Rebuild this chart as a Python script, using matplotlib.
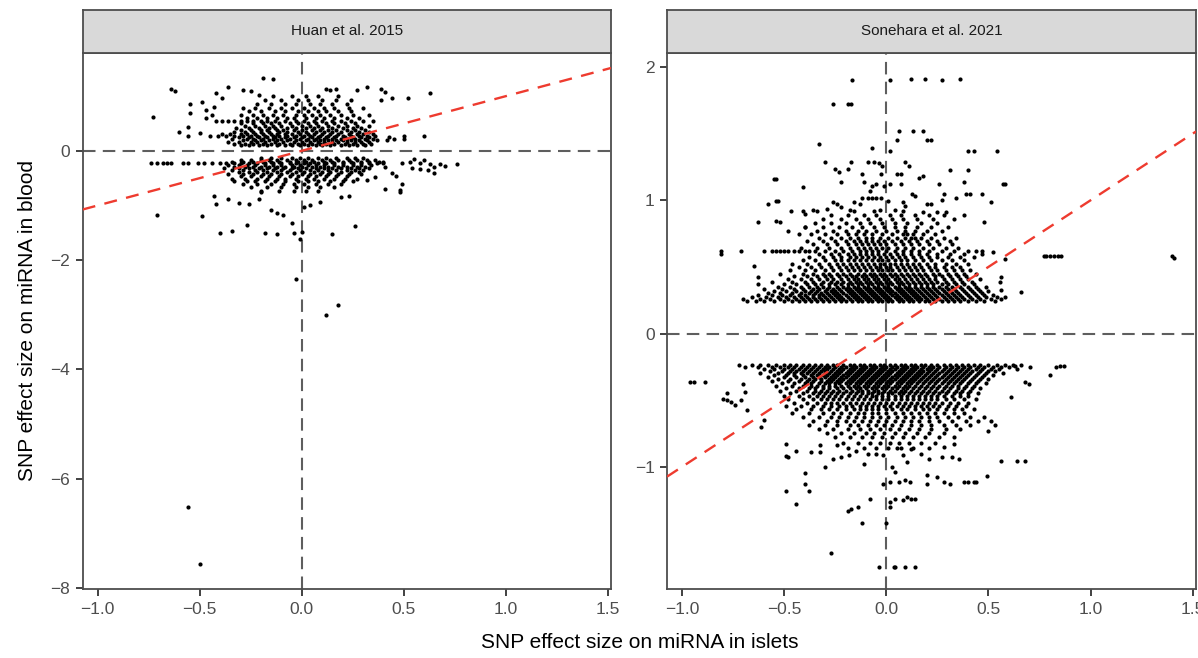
import matplotlib
matplotlib.use('Agg')
import matplotlib.pyplot as plt
from matplotlib.ticker import FuncFormatter

plt.rcParams['font.family'] = ['Liberation Sans', 'DejaVu Sans']

panel_titles = ['Huan et al. 2015', 'Sonehara et al. 2021']
x_ticks = [-1.0, -0.5, 0.0, 0.5, 1.0, 1.5]
huan_y_ticks = [0, -2, -4, -6, -8]
sone_y_ticks = [2, 1, 0, -1]

# Huan et al. 2015 - dense part read as rows (blood effect, islet effects)
huan_rows = [
    (0.10, [-0.30, -0.26, -0.21, -0.17, -0.12, -0.08, -0.05, -0.01, 0.03, 0.07, 0.10, 0.14, 0.19, 0.23, 0.27, 0.31]),
    (0.13, [-0.33, -0.28, -0.24, -0.19, -0.15, -0.11, -0.06, -0.02, 0.01, 0.05, 0.09, 0.12, 0.16, 0.21, 0.25, 0.30, 0.34]),
    (0.16, [-0.36, -0.31, -0.25, -0.22, -0.18, -0.13, -0.09, -0.04, 0.0, 0.04, 0.08, 0.11, 0.15, 0.18, 0.22, 0.26, 0.29, 0.33]),
    (0.19, [-0.29, -0.23, -0.20, -0.16, -0.12, -0.07, -0.03, 0.02, 0.06, 0.09, 0.13, 0.17, 0.20, 0.24, 0.28, 0.32, 0.37]),
    (0.22, [-0.34, -0.27, -0.24, -0.19, -0.14, -0.10, -0.06, -0.01, 0.03, 0.07, 0.11, 0.15, 0.19, 0.22, 0.26, 0.31, 0.35]),
    (0.25, [-0.31, -0.26, -0.21, -0.17, -0.13, -0.08, -0.04, 0.0, 0.05, 0.08, 0.12, 0.16, 0.21, 0.25, 0.29, 0.33]),
    (0.28, [-0.45, -0.41, -0.37, -0.33, -0.29, -0.25, -0.22, -0.18, -0.14, -0.11, -0.07, -0.03, 0.01, 0.04, 0.09, 0.13, 0.17, 0.20, 0.24, 0.28, 0.32, 0.36]),
    (0.31, [-0.39, -0.35, -0.30, -0.27, -0.23, -0.19, -0.15, -0.12, -0.08, -0.05, -0.01, 0.03, 0.06, 0.10, 0.14, 0.18, 0.23, 0.27, 0.30, 0.35]),
    (0.34, [-0.33, -0.28, -0.24, -0.20, -0.16, -0.11, -0.07, -0.02, 0.02, 0.07, 0.11, 0.15, 0.19, 0.24, 0.28, 0.33]),
    (0.38, [-0.30, -0.25, -0.20, -0.17, -0.12, -0.09, -0.04, 0.0, 0.05, 0.09, 0.13, 0.17, 0.22, 0.26, 0.31]),
    (0.42, [-0.32, -0.26, -0.21, -0.16, -0.13, -0.07, -0.03, 0.02, 0.06, 0.10, 0.15, 0.20, 0.25, 0.29]),
    (0.46, [-0.28, -0.23, -0.18, -0.14, -0.10, -0.05, 0.0, 0.04, 0.08, 0.13, 0.18, 0.22, 0.27, 0.33]),
    (0.50, [-0.30, -0.24, -0.19, -0.15, -0.11, -0.06, -0.02, 0.03, 0.07, 0.12, 0.16, 0.21, 0.26]),
    (0.55, [-0.42, -0.39, -0.36, -0.33, -0.30, -0.27, -0.24, -0.20, -0.17, -0.13, -0.08, -0.03, 0.01, 0.06, 0.10, 0.15, 0.19, 0.24, 0.30, 0.35]),
    (0.60, [-0.27, -0.22, -0.17, -0.12, -0.07, -0.04, 0.02, 0.07, 0.11, 0.16, 0.22, 0.28]),
    (0.66, [-0.30, -0.24, -0.19, -0.14, -0.09, -0.03, 0.01, 0.05, 0.09, 0.14, 0.19, 0.25, 0.33]),
    (0.72, [-0.26, -0.20, -0.13, -0.08, -0.02, 0.03, 0.08, 0.12, 0.18, 0.24]),
    (0.79, [-0.29, -0.23, -0.16, -0.10, -0.05, 0.01, 0.06, 0.11, 0.16, 0.23, 0.30]),
    (0.86, [-0.22, -0.15, -0.08, -0.03, 0.04, 0.09, 0.15, 0.22]),
    (0.93, [-0.18, -0.10, -0.02, 0.03, 0.10, 0.17, 0.24]),
    (1.00, [-0.14, -0.05, 0.02, 0.08, 0.18]),
    (-0.14, [-0.20, -0.15, -0.10, -0.05, -0.01, 0.03, 0.08, 0.12, 0.17, 0.22, 0.26, 0.30]),
    (-0.17, [-0.30, -0.25, -0.20, -0.16, -0.12, -0.07, -0.03, 0.01, 0.05, 0.10, 0.14, 0.18, 0.23, 0.27, 0.32, 0.36]),
    (-0.20, [-0.34, -0.29, -0.24, -0.19, -0.15, -0.11, -0.06, -0.02, 0.02, 0.06, 0.11, 0.15, 0.20, 0.24, 0.29, 0.33, 0.38]),
    (-0.23, [-0.74, -0.71, -0.68, -0.66, -0.64, -0.58, -0.56, -0.51, -0.48, -0.44, -0.40, -0.37, -0.33, -0.30, -0.26, -0.22, -0.18, -0.14,
             -0.10, -0.06, -0.03, 0.01, 0.04, 0.08, 0.12, 0.16, 0.20, 0.25, 0.29, 0.33, 0.37, 0.40]),
    (-0.26, [-0.36, -0.31, -0.27, -0.23, -0.18, -0.14, -0.10, -0.05, -0.01, 0.03, 0.07, 0.11, 0.16, 0.20, 0.25, 0.29, 0.34]),
    (-0.29, [-0.33, -0.28, -0.24, -0.20, -0.16, -0.12, -0.08, -0.04, 0.0, 0.05, 0.09, 0.13, 0.18, 0.22, 0.27, 0.31]),
    (-0.32, [-0.38, -0.31, -0.26, -0.21, -0.17, -0.13, -0.09, -0.05, -0.02, 0.02, 0.07, 0.11, 0.15, 0.19, 0.24, 0.28, 0.33]),
    (-0.35, [-0.34, -0.29, -0.23, -0.19, -0.14, -0.10, -0.06, -0.01, 0.04, 0.08, 0.13, 0.17, 0.22, 0.26, 0.30]),
    (-0.39, [-0.31, -0.26, -0.22, -0.17, -0.12, -0.07, -0.03, 0.01, 0.06, 0.10, 0.14, 0.19, 0.24, 0.28]),
    (-0.43, [-0.36, -0.29, -0.24, -0.19, -0.15, -0.10, -0.05, 0.0, 0.04, 0.09, 0.13, 0.18, 0.23, 0.29]),
    (-0.47, [-0.30, -0.25, -0.20, -0.16, -0.11, -0.06, -0.02, 0.03, 0.07, 0.12, 0.17, 0.22]),
    (-0.51, [-0.34, -0.28, -0.22, -0.17, -0.12, -0.08, -0.03, 0.02, 0.06, 0.11, 0.16, 0.21, 0.27]),
    (-0.56, [-0.33, -0.27, -0.23, -0.18, -0.13, -0.08, -0.02, 0.03, 0.08, 0.14, 0.20, 0.25]),
    (-0.61, [-0.29, -0.22, -0.15, -0.09, -0.04, 0.01, 0.07, 0.13, 0.19]),
    (-0.67, [-0.25, -0.17, -0.10, -0.03, 0.03, 0.09, 0.16]),
    (-0.74, [-0.20, -0.11, -0.04, 0.02, 0.08]),
]

# Huan et al. 2015 - scattered points (islet effect, blood effect)
huan_extra = [
    (-0.56, -6.52), (-0.50, -7.57), (-0.03, -2.35), (0.18, -2.82), (0.12, -3.01),
    (-0.71, -1.18), (-0.49, -1.19), (-0.40, -1.50), (-0.34, -1.46), (-0.27, -1.35),
    (-0.18, -1.50), (-0.12, -1.53), (-0.04, -1.50), (0.0, -1.49), (-0.01, -1.62),
    (0.15, -1.52), (0.26, -1.37), (-0.15, -1.08), (-0.12, -1.13), (-0.09, -1.17),
    (-0.05, -1.33), (0.01, -1.02), (0.04, -1.00), (0.09, -0.94), (-0.43, -0.83),
    (-0.36, -0.88), (-0.31, -0.96), (-0.26, -0.97), (-0.21, -0.88), (-0.42, -0.97),
    (-0.20, -0.76), (0.19, -0.84), (0.23, -0.82), (0.41, -0.70), (0.48, -0.71),
    (0.48, -0.76), (0.49, -0.61), (0.49, -0.23), (0.53, -0.21), (0.55, -0.15),
    (0.58, -0.23), (0.60, -0.17), (0.63, -0.24), (0.65, -0.29), (0.68, -0.24),
    (0.70, -0.27), (0.76, -0.24), (0.54, -0.32), (0.58, -0.34), (0.62, -0.35),
    (0.65, -0.41), (0.40, -0.20), (0.41, -0.29), (0.44, -0.41), (0.46, -0.47),
    (0.32, -0.53), (0.36, -0.48),
    (-0.19, 1.34), (-0.14, 1.31), (-0.64, 1.13), (-0.62, 1.10), (-0.73, 0.62),
    (-0.55, 0.85), (-0.55, 0.69), (-0.49, 0.90), (-0.42, 1.05), (-0.39, 0.96),
    (-0.36, 1.16), (-0.29, 1.11), (-0.25, 1.10), (-0.21, 1.02), (0.12, 1.13),
    (0.14, 1.11), (0.17, 1.13), (0.27, 1.11), (0.32, 1.16), (0.39, 1.13),
    (0.41, 1.08), (0.44, 0.96), (0.52, 0.96), (0.63, 1.05), (0.39, 0.93),
    (0.60, 0.27), (0.50, 0.27), (0.50, 0.21), (0.43, 0.25), (0.45, 0.21),
    (0.42, 0.20), (-0.60, 0.35), (-0.56, 0.43), (-0.56, 0.27), (-0.47, 0.60),
    (-0.44, 0.66), (-0.47, 0.75), (-0.43, 0.80), (-0.50, 0.32),
]

# Sonehara et al. 2021 - dense part read as rows
sone_rows = [
    (0.245, [-0.68, -0.64, -0.60, -0.55, -0.50, -0.46, -0.43, -0.40, -0.37, -0.34, -0.31, -0.28, -0.25, -0.22, -0.20, -0.17, -0.14, -0.12, -0.09, -0.07,
             -0.04, -0.02, 0.01, 0.03, 0.06, 0.08, 0.11, 0.13, 0.16, 0.19, 0.21, 0.24, 0.27, 0.30, 0.33, 0.36, 0.40, 0.44, 0.48, 0.53]),
    (0.26, [-0.70, -0.62, -0.57, -0.52, -0.48, -0.44, -0.41, -0.38, -0.35, -0.32, -0.29, -0.26, -0.23, -0.21, -0.18, -0.15, -0.13, -0.10, -0.08, -0.05,
            -0.03, 0.0, 0.02, 0.05, 0.07, 0.10, 0.12, 0.15, 0.17, 0.20, 0.23, 0.26, 0.29, 0.32, 0.35, 0.38, 0.42, 0.46, 0.51, 0.56]),
    (0.275, [-0.66, -0.59, -0.53, -0.49, -0.45, -0.42, -0.39, -0.36, -0.33, -0.30, -0.27, -0.24, -0.22, -0.19, -0.16, -0.14, -0.11, -0.09, -0.06, -0.04,
             -0.01, 0.01, 0.04, 0.06, 0.09, 0.11, 0.14, 0.16, 0.19, 0.22, 0.25, 0.28, 0.31, 0.34, 0.37, 0.41, 0.45, 0.49, 0.54]),
    (0.29, [-0.63, -0.56, -0.51, -0.47, -0.43, -0.40, -0.36, -0.33, -0.31, -0.28, -0.25, -0.23, -0.20, -0.17, -0.15, -0.12, -0.10, -0.07, -0.05, -0.02,
            0.0, 0.03, 0.05, 0.08, 0.10, 0.13, 0.15, 0.18, 0.21, 0.24, 0.27, 0.30, 0.33, 0.36, 0.40, 0.44, 0.48, 0.52]),
    (0.305, [-0.58, -0.52, -0.46, -0.42, -0.38, -0.35, -0.32, -0.29, -0.26, -0.24, -0.21, -0.18, -0.16, -0.13, -0.11, -0.08, -0.06, -0.03, -0.01,
             0.02, 0.04, 0.07, 0.09, 0.12, 0.14, 0.17, 0.20, 0.23, 0.26, 0.29, 0.32, 0.35, 0.39, 0.43, 0.47]),
    (0.32, [-0.55, -0.49, -0.44, -0.40, -0.37, -0.34, -0.30, -0.27, -0.25, -0.22, -0.19, -0.17, -0.14, -0.12, -0.09, -0.07, -0.04, -0.02, 0.01,
            0.03, 0.06, 0.08, 0.11, 0.13, 0.16, 0.19, 0.22, 0.25, 0.28, 0.31, 0.34, 0.38, 0.42, 0.46, 0.50]),
    (0.335, [-0.60, -0.51, -0.45, -0.41, -0.36, -0.33, -0.29, -0.26, -0.23, -0.20, -0.18, -0.15, -0.13, -0.10, -0.08, -0.05, -0.03, 0.0, 0.02,
             0.05, 0.07, 0.10, 0.12, 0.15, 0.18, 0.21, 0.24, 0.27, 0.30, 0.33, 0.37, 0.41, 0.45]),
    (0.35, [-0.53, -0.47, -0.42, -0.38, -0.34, -0.31, -0.28, -0.24, -0.21, -0.19, -0.16, -0.14, -0.11, -0.09, -0.06, -0.04, -0.01, 0.01, 0.04,
            0.06, 0.09, 0.11, 0.14, 0.17, 0.20, 0.23, 0.26, 0.29, 0.32, 0.36, 0.40, 0.44, 0.49]),
    (0.37, [-0.50, -0.44, -0.39, -0.35, -0.32, -0.28, -0.25, -0.22, -0.19, -0.17, -0.14, -0.12, -0.09, -0.07, -0.04, -0.02, 0.01, 0.03, 0.06,
            0.08, 0.11, 0.14, 0.17, 0.20, 0.23, 0.27, 0.30, 0.34, 0.38, 0.43]),
    (0.39, [-0.56, -0.46, -0.40, -0.36, -0.31, -0.27, -0.24, -0.21, -0.18, -0.15, -0.13, -0.10, -0.08, -0.05, -0.03, 0.0, 0.02, 0.05, 0.07,
            0.10, 0.13, 0.16, 0.19, 0.22, 0.25, 0.29, 0.33, 0.37, 0.42]),
    (0.41, [-0.48, -0.42, -0.37, -0.33, -0.29, -0.26, -0.22, -0.19, -0.16, -0.14, -0.11, -0.09, -0.06, -0.04, -0.01, 0.01, 0.04, 0.06, 0.09,
            0.12, 0.15, 0.18, 0.21, 0.24, 0.28, 0.32, 0.36, 0.40, 0.46]),
    (0.43, [-0.45, -0.39, -0.34, -0.30, -0.27, -0.23, -0.20, -0.17, -0.15, -0.12, -0.10, -0.07, -0.05, -0.02, 0.0, 0.03, 0.05, 0.08, 0.11,
            0.14, 0.17, 0.20, 0.24, 0.27, 0.31, 0.35, 0.39]),
    (0.45, [-0.52, -0.41, -0.36, -0.31, -0.28, -0.24, -0.21, -0.18, -0.14, -0.11, -0.08, -0.06, -0.03, -0.01, 0.02, 0.04, 0.07, 0.10, 0.13,
            0.16, 0.19, 0.23, 0.26, 0.30, 0.34, 0.38, 0.44]),
    (0.475, [-0.47, -0.40, -0.35, -0.30, -0.26, -0.22, -0.19, -0.16, -0.13, -0.10, -0.07, -0.04, -0.02, 0.01, 0.03, 0.06, 0.09, 0.12, 0.15,
             0.18, 0.22, 0.25, 0.29, 0.33, 0.37, 0.41]),
    (0.50, [-0.43, -0.37, -0.32, -0.27, -0.23, -0.20, -0.17, -0.14, -0.11, -0.08, -0.05, -0.03, 0.0, 0.02, 0.05, 0.08, 0.11, 0.14, 0.17,
            0.21, 0.24, 0.28, 0.32, 0.36]),
    (0.525, [-0.46, -0.39, -0.33, -0.28, -0.24, -0.21, -0.18, -0.15, -0.12, -0.09, -0.06, -0.03, -0.01, 0.02, 0.04, 0.07, 0.10, 0.13, 0.16,
             0.20, 0.24, 0.29, 0.34, 0.40]),
    (0.55, [-0.41, -0.35, -0.30, -0.25, -0.22, -0.19, -0.16, -0.13, -0.10, -0.07, -0.04, -0.02, 0.01, 0.04, 0.07, 0.10, 0.14, 0.18, 0.22,
            0.27, 0.32, 0.38]),
    (0.575, [-0.38, -0.31, -0.26, -0.22, -0.18, -0.15, -0.12, -0.09, -0.06, -0.03, 0.0, 0.03, 0.06, 0.09, 0.13, 0.17, 0.21, 0.25, 0.30,
             0.36, 0.43]),
    (0.60, [-0.33, -0.27, -0.23, -0.19, -0.16, -0.13, -0.10, -0.07, -0.04, -0.01, 0.02, 0.05, 0.08, 0.12, 0.16, 0.20, 0.25, 0.31, 0.38, 0.47]),
    (0.62, [-0.60, -0.56, -0.54, -0.52, -0.50, -0.48, -0.45, -0.43, -0.40, -0.38, -0.35, -0.30, -0.25, -0.21, -0.17, -0.13, -0.10, -0.07,
            -0.04, 0.0, 0.04, 0.08, 0.12, 0.16, 0.21, 0.27, 0.33, 0.40, 0.44, 0.47]),
    (0.645, [-0.42, -0.34, -0.28, -0.22, -0.18, -0.14, -0.11, -0.08, -0.05, -0.02, 0.01, 0.05, 0.09, 0.13, 0.18, 0.23, 0.29, 0.35]),
    (0.67, [-0.36, -0.29, -0.24, -0.19, -0.15, -0.12, -0.09, -0.06, -0.03, 0.0, 0.04, 0.08, 0.12, 0.16, 0.21, 0.26, 0.32]),
    (0.695, [-0.39, -0.31, -0.25, -0.20, -0.16, -0.13, -0.10, -0.07, -0.04, -0.01, 0.03, 0.07, 0.11, 0.15, 0.20, 0.25, 0.31]),
    (0.72, [-0.33, -0.27, -0.22, -0.18, -0.14, -0.10, -0.07, -0.03, 0.01, 0.05, 0.09, 0.12, 0.14, 0.17, 0.22, 0.28, 0.34]),
    (0.745, [-0.37, -0.30, -0.24, -0.19, -0.15, -0.11, -0.07, -0.02, 0.03, 0.08, 0.10, 0.13, 0.18, 0.24]),
    (0.77, [-0.34, -0.26, -0.20, -0.14, -0.10, -0.05, 0.0, 0.05, 0.09, 0.14, 0.20, 0.27]),
    (0.80, [-0.40, -0.31, -0.23, -0.17, -0.12, -0.06, -0.01, 0.04, 0.09, 0.15, 0.22, 0.30]),
    (0.83, [-0.35, -0.27, -0.20, -0.13, -0.08, -0.02, 0.04, 0.10, 0.17, 0.25]),
    (0.86, [-0.31, -0.22, -0.15, -0.09, -0.03, 0.03, 0.08, 0.15, 0.23, 0.33]),
    (0.89, [-0.27, -0.19, -0.11, -0.05, 0.02, 0.07, 0.14, 0.21, 0.28]),
    (-0.235, [-0.72, -0.66, -0.62, -0.58, -0.54, -0.50, -0.47, -0.44, -0.41, -0.38, -0.35, -0.32, -0.29, -0.26, -0.24, -0.21, -0.18, -0.16,
              -0.13, -0.11, -0.08, -0.06, -0.03, -0.01, 0.02, 0.04, 0.07, 0.09, 0.12, 0.14, 0.17, 0.19, 0.22, 0.25, 0.28, 0.31, 0.34, 0.37,
              0.40, 0.43, 0.46, 0.50, 0.54, 0.58, 0.62, 0.66]),
    (-0.25, [-0.69, -0.63, -0.56, -0.52, -0.48, -0.45, -0.42, -0.39, -0.36, -0.33, -0.30, -0.28, -0.25, -0.22, -0.20, -0.17, -0.15, -0.12,
             -0.10, -0.07, -0.05, -0.02, 0.0, 0.03, 0.05, 0.08, 0.10, 0.13, 0.15, 0.18, 0.21, 0.23, 0.26, 0.29, 0.32, 0.35, 0.38, 0.41,
             0.45, 0.48, 0.52, 0.56, 0.60]),
    (-0.265, [-0.60, -0.55, -0.50, -0.46, -0.43, -0.40, -0.37, -0.34, -0.31, -0.29, -0.26, -0.23, -0.21, -0.18, -0.16, -0.13, -0.11, -0.08,
              -0.06, -0.03, -0.01, 0.02, 0.04, 0.07, 0.09, 0.12, 0.14, 0.17, 0.20, 0.22, 0.25, 0.28, 0.31, 0.34, 0.37, 0.40, 0.44, 0.47,
              0.51, 0.55, 0.64]),
    (-0.28, [-0.57, -0.51, -0.47, -0.44, -0.41, -0.38, -0.35, -0.32, -0.30, -0.27, -0.24, -0.22, -0.19, -0.17, -0.14, -0.12, -0.09, -0.07,
             -0.04, -0.02, 0.01, 0.03, 0.06, 0.08, 0.11, 0.13, 0.16, 0.18, 0.21, 0.24, 0.27, 0.30, 0.33, 0.36, 0.39, 0.42, 0.46, 0.50, 0.53]),
    (-0.295, [-0.62, -0.53, -0.48, -0.45, -0.42, -0.39, -0.36, -0.33, -0.30, -0.28, -0.25, -0.23, -0.20, -0.18, -0.15, -0.13, -0.10, -0.08,
              -0.05, -0.03, 0.0, 0.02, 0.05, 0.07, 0.10, 0.12, 0.15, 0.17, 0.20, 0.23, 0.26, 0.29, 0.32, 0.35, 0.38, 0.41, 0.45, 0.49, 0.57]),
    (-0.31, [-0.55, -0.49, -0.45, -0.41, -0.37, -0.34, -0.31, -0.29, -0.26, -0.24, -0.21, -0.19, -0.16, -0.14, -0.11, -0.09, -0.06, -0.04,
             -0.01, 0.01, 0.04, 0.06, 0.09, 0.11, 0.14, 0.16, 0.19, 0.22, 0.25, 0.28, 0.31, 0.34, 0.37, 0.40, 0.44, 0.48, 0.52]),
    (-0.325, [-0.58, -0.50, -0.44, -0.40, -0.36, -0.33, -0.30, -0.27, -0.25, -0.22, -0.20, -0.17, -0.15, -0.12, -0.10, -0.07, -0.05, -0.02,
              0.0, 0.03, 0.05, 0.08, 0.10, 0.13, 0.15, 0.18, 0.21, 0.24, 0.27, 0.30, 0.33, 0.36, 0.39, 0.43, 0.47]),
    (-0.34, [-0.53, -0.47, -0.42, -0.38, -0.35, -0.32, -0.28, -0.26, -0.23, -0.21, -0.18, -0.16, -0.13, -0.11, -0.08, -0.06, -0.03, -0.01,
             0.02, 0.04, 0.07, 0.09, 0.12, 0.14, 0.17, 0.20, 0.23, 0.26, 0.29, 0.32, 0.35, 0.38, 0.42, 0.46, 0.50]),
    (-0.355, [-0.56, -0.48, -0.43, -0.39, -0.36, -0.32, -0.29, -0.27, -0.24, -0.22, -0.19, -0.17, -0.14, -0.12, -0.09, -0.07, -0.04, -0.02,
              0.01, 0.03, 0.06, 0.08, 0.11, 0.13, 0.16, 0.19, 0.22, 0.25, 0.28, 0.31, 0.34, 0.37, 0.41, 0.45]),
    (-0.37, [-0.51, -0.45, -0.40, -0.37, -0.33, -0.30, -0.28, -0.25, -0.23, -0.20, -0.18, -0.15, -0.13, -0.10, -0.08, -0.05, -0.03, 0.0,
             0.02, 0.05, 0.07, 0.10, 0.12, 0.15, 0.18, 0.21, 0.24, 0.27, 0.30, 0.33, 0.36, 0.40, 0.44, 0.49]),
    (-0.39, [-0.54, -0.46, -0.41, -0.37, -0.34, -0.31, -0.28, -0.25, -0.22, -0.19, -0.16, -0.14, -0.11, -0.09, -0.06, -0.04, -0.01, 0.01,
             0.04, 0.06, 0.09, 0.11, 0.14, 0.17, 0.20, 0.23, 0.26, 0.29, 0.32, 0.35, 0.39, 0.43]),
    (-0.41, [-0.49, -0.43, -0.38, -0.35, -0.31, -0.28, -0.24, -0.21, -0.18, -0.15, -0.13, -0.10, -0.07, -0.05, -0.02, 0.0, 0.03, 0.05,
             0.08, 0.10, 0.13, 0.16, 0.19, 0.22, 0.25, 0.28, 0.31, 0.35, 0.38, 0.42, 0.46]),
    (-0.43, [-0.52, -0.44, -0.39, -0.35, -0.32, -0.29, -0.26, -0.23, -0.20, -0.17, -0.14, -0.12, -0.09, -0.06, -0.04, -0.01, 0.02, 0.04,
             0.07, 0.09, 0.12, 0.15, 0.18, 0.21, 0.24, 0.27, 0.30, 0.34, 0.37, 0.41]),
    (-0.45, [-0.47, -0.41, -0.36, -0.33, -0.30, -0.27, -0.24, -0.21, -0.18, -0.15, -0.12, -0.09, -0.07, -0.04, -0.02, 0.01, 0.03, 0.06,
             0.08, 0.11, 0.14, 0.17, 0.20, 0.23, 0.26, 0.29, 0.33, 0.36, 0.40, 0.45]),
    (-0.47, [-0.50, -0.43, -0.38, -0.34, -0.31, -0.28, -0.25, -0.22, -0.19, -0.16, -0.13, -0.10, -0.07, -0.05, -0.02, 0.01, 0.04, 0.07,
             0.10, 0.13, 0.16, 0.19, 0.22, 0.25, 0.28, 0.32, 0.36, 0.40]),
    (-0.495, [-0.48, -0.41, -0.36, -0.32, -0.29, -0.26, -0.23, -0.20, -0.17, -0.14, -0.11, -0.08, -0.05, -0.02, 0.01, 0.04, 0.07, 0.10,
              0.13, 0.16, 0.19, 0.22, 0.25, 0.29, 0.33, 0.38, 0.44]),
    (-0.52, [-0.45, -0.39, -0.34, -0.30, -0.27, -0.24, -0.21, -0.18, -0.15, -0.12, -0.09, -0.06, -0.03, 0.0, 0.03, 0.06, 0.09, 0.12,
             0.15, 0.18, 0.21, 0.24, 0.27, 0.31, 0.35, 0.40]),
    (-0.545, [-0.49, -0.42, -0.36, -0.31, -0.27, -0.23, -0.20, -0.17, -0.13, -0.10, -0.07, -0.04, -0.01, 0.02, 0.05, 0.08, 0.11, 0.14,
              0.17, 0.20, 0.23, 0.26, 0.30, 0.34, 0.39]),
    (-0.57, [-0.44, -0.37, -0.32, -0.28, -0.24, -0.20, -0.16, -0.13, -0.10, -0.07, -0.04, 0.0, 0.03, 0.07, 0.10, 0.14, 0.18, 0.21,
             0.25, 0.29, 0.33, 0.37, 0.43]),
    (-0.60, [-0.46, -0.38, -0.31, -0.26, -0.22, -0.18, -0.14, -0.11, -0.07, -0.04, 0.0, 0.04, 0.08, 0.12, 0.16, 0.20, 0.24, 0.28, 0.33, 0.38]),
    (-0.63, [-0.41, -0.33, -0.27, -0.23, -0.19, -0.15, -0.11, -0.07, -0.03, 0.01, 0.05, 0.09, 0.13, 0.17, 0.21, 0.25, 0.30, 0.35, 0.41, 0.48]),
    (-0.66, [-0.36, -0.29, -0.24, -0.20, -0.16, -0.12, -0.08, -0.04, 0.0, 0.04, 0.08, 0.12, 0.16, 0.21, 0.26, 0.32, 0.39, 0.45, 0.51]),
    (-0.69, [-0.38, -0.30, -0.24, -0.18, -0.14, -0.09, -0.05, -0.01, 0.03, 0.07, 0.12, 0.17, 0.22, 0.28, 0.34, 0.41]),
    (-0.72, [-0.33, -0.26, -0.19, -0.13, -0.08, -0.03, 0.02, 0.06, 0.11, 0.16, 0.22, 0.29, 0.36]),
    (-0.75, [-0.29, -0.22, -0.16, -0.10, -0.06, -0.01, 0.04, 0.09, 0.15, 0.21, 0.28]),
    (-0.78, [-0.25, -0.18, -0.12, -0.07, -0.02, 0.03, 0.08, 0.13, 0.19, 0.26, 0.33]),
    (-0.82, [-0.21, -0.14, -0.08, -0.03, 0.02, 0.06, 0.11, 0.17, 0.24]),
    (-0.86, [-0.19, -0.11, -0.05, 0.01, 0.07, 0.13, 0.21]),
]

# Sonehara et al. 2021 - scattered points
sone_extra = [
    (-0.17, 1.90), (0.02, 1.90), (0.12, 1.91), (0.19, 1.91), (0.27, 1.90), (0.36, 1.91),
    (-0.26, 1.72), (-0.19, 1.72), (-0.175, 1.72), (-0.33, 1.42), (0.06, 1.52), (0.13, 1.52),
    (0.18, 1.52), (0.05, 1.45), (0.20, 1.45), (0.22, 1.45), (-0.07, 1.39), (0.02, 1.37),
    (0.40, 1.37), (0.43, 1.37), (0.54, 1.37), (-0.30, 1.285), (-0.175, 1.285), (-0.09, 1.29),
    (-0.06, 1.29), (-0.035, 1.28), (-0.02, 1.26), (0.09, 1.29), (0.11, 1.26), (-0.25, 1.235),
    (-0.23, 1.21), (-0.19, 1.235), (-0.12, 1.20), (-0.025, 1.20), (0.05, 1.20), (0.07, 1.20),
    (0.16, 1.17), (0.18, 1.18), (0.31, 1.23), (0.40, 1.23), (-0.55, 1.156), (-0.54, 1.156),
    (-0.22, 1.14), (-0.11, 1.14), (-0.05, 1.12), (-0.01, 1.11), (0.02, 1.12), (0.07, 1.12),
    (0.26, 1.12), (0.38, 1.135), (0.57, 1.12), (0.58, 1.12), (-0.41, 1.10), (-0.07, 1.11),
    (-0.08, 1.07), (0.125, 1.048), (0.14, 1.03), (0.39, 1.048), (0.41, 1.048), (0.47, 1.048),
    (0.28, 1.05), (0.34, 1.018), (-0.12, 1.02), (-0.09, 1.02), (-0.07, 1.02), (-0.05, 1.02),
    (-0.025, 1.02), (-0.54, 0.993), (-0.53, 0.993), (-0.58, 0.97), (-0.26, 0.986), (-0.24, 0.97),
    (-0.22, 0.948), (-0.16, 0.99), (-0.13, 0.97), (0.01, 0.998), (0.08, 0.986), (0.09, 0.96),
    (0.20, 0.97), (0.22, 0.97), (0.27, 1.0), (0.51, 0.985), (-0.465, 0.923), (-0.41, 0.918),
    (-0.40, 0.898), (-0.36, 0.928), (-0.34, 0.918), (-0.29, 0.935), (-0.18, 0.93), (-0.16, 0.92),
    (-0.06, 0.92), (-0.03, 0.925), (0.04, 0.93), (0.08, 0.92), (0.18, 0.91), (0.25, 0.91),
    (0.29, 0.91), (0.38, 0.89), (-0.63, 0.835), (-0.54, 0.848), (-0.52, 0.835), (-0.48, 0.773),
    (-0.43, 0.748), (-0.40, 0.798), (0.48, 0.835), (-0.81, 0.623), (-0.81, 0.593), (-0.71, 0.623),
    (0.77, 0.578), (0.78, 0.578), (0.80, 0.578), (0.82, 0.578), (0.84, 0.578), (0.855, 0.578),
    (1.40, 0.585), (1.41, 0.568), (0.66, 0.31), (0.58, 0.273), (0.56, 0.323), (0.555, 0.386),
    (0.56, 0.423), (0.52, 0.61), (0.58, 0.56), (-0.65, 0.51), (-0.63, 0.423), (-0.63, 0.373),
    (-0.96, -0.365), (-0.94, -0.365), (-0.89, -0.365), (-0.80, -0.49), (-0.78, -0.50),
    (-0.76, -0.515), (-0.74, -0.54), (-0.71, -0.50), (-0.78, -0.45), (-0.70, -0.378),
    (-0.69, -0.44), (-0.68, -0.577), (-0.615, -0.70), (-0.60, -0.65), (-0.49, -0.828),
    (-0.49, -0.922), (-0.48, -0.928), (-0.44, -0.882), (-0.40, -1.05), (-0.40, -1.132),
    (-0.38, -1.178), (-0.49, -1.178), (-0.44, -1.278), (-0.30, -1.0), (-0.19, -1.33),
    (-0.175, -1.315), (-0.14, -1.30), (-0.08, -1.24), (-0.12, -1.42), (0.0, -1.42),
    (-0.27, -1.65), (-0.035, -1.75), (0.035, -1.75), (0.04, -1.75), (0.09, -1.75), (0.14, -1.75),
    (0.02, -1.265), (0.04, -1.24), (0.08, -1.25), (0.10, -1.228), (0.12, -1.24), (0.14, -1.24),
    (0.02, -1.30), (-0.015, -1.128), (0.02, -1.115), (0.06, -1.115), (0.09, -1.10), (0.115, -1.115),
    (0.20, -1.065), (0.20, -1.128), (0.25, -1.078), (0.28, -1.115), (0.31, -1.132), (0.38, -1.115),
    (0.40, -1.115), (0.44, -1.115), (0.43, -1.115), (0.495, -1.07), (0.03, -1.0), (0.04, -1.04),
    (0.10, -0.965), (0.08, -0.915), (0.56, -0.958), (0.64, -0.958), (0.68, -0.958), (0.50, -0.728),
    (0.53, -0.69), (0.61, -0.478), (0.68, -0.365), (0.70, -0.378), (0.80, -0.31), (0.83, -0.252),
    (0.87, -0.24), (0.85, -0.247), (0.705, -0.252), (0.63, -0.24), (-0.26, -0.94), (-0.22, -0.928),
    (-0.185, -0.915), (-0.11, -0.978), (-0.09, -0.903), (-0.05, -0.903), (-0.016, -0.915),
    (0.17, -0.903), (0.21, -0.94), (0.27, -0.928), (0.32, -0.928), (0.355, -0.94),
    (-0.37, -0.89), (-0.325, -0.89), (-0.325, -0.84), (-0.24, -0.84), (-0.15, -0.88), (0.05, -0.86),
    (0.12, -0.87), (0.28, -0.85), (0.33, -0.83),
]


def flatten(rows, extra):
    xs = [x for y, row in rows for x in row] + [p[0] for p in extra]
    ys = [y for y, row in rows for x in row] + [p[1] for p in extra]
    return xs, ys


def one_decimal(v, pos):
    return f'{v:.1f}'.replace('-', '\u2212')


panels = [
    (flatten(huan_rows, huan_extra), (-8.02, 1.79), huan_y_ticks),
    (flatten(sone_rows, sone_extra), (-1.917, 2.105), sone_y_ticks),
]

fig = plt.figure(figsize=(11.98, 6.58), dpi=100)
W, H = 1198, 658
lefts = [82.7, 667]
ax_right = [611, 1196]
top_px, bottom_px, strip_top = 53, 589, 9.5
xlim = (-1.074, 1.516)
frame_col = '#4D4D4D'

for i, ((xs, ys), ylim, yticks) in enumerate(panels):
    ax = fig.add_axes([lefts[i] / W, 1 - bottom_px / H, (ax_right[i] - lefts[i]) / W, (bottom_px - top_px) / H])
    ax.scatter(xs, ys, s=9, color='black', linewidths=0, zorder=3)
    ax.axhline(0, color='#5E5E5E', lw=1.5, ls=(0, (6, 3.5)), zorder=2)
    ax.axvline(0, color='#5E5E5E', lw=1.5, ls=(0, (6, 3.5)), zorder=2)
    ax.plot(xlim, xlim, color='#EE3B2F', lw=1.7, ls=(0, (5.5, 4)), zorder=4)
    ax.set_xlim(xlim)
    ax.set_ylim(ylim)
    ax.set_xticks(x_ticks)
    ax.set_yticks(yticks)
    ax.xaxis.set_major_formatter(FuncFormatter(one_decimal))
    ax.tick_params(axis='both', length=5, width=1.3, color='#333333', labelcolor='#4D4D4D',
                   labelsize=12.5, pad=4)
    for sp in ax.spines.values():
        sp.set_color(frame_col)
        sp.set_linewidth(1.3)

    # facet strip
    sax = fig.add_axes([lefts[i] / W, 1 - top_px / H, (ax_right[i] - lefts[i]) / W, (top_px - strip_top) / H])
    sax.set_facecolor('#D9D9D9')
    sax.set_xticks([])
    sax.set_yticks([])
    for sp in sax.spines.values():
        sp.set_color(frame_col)
        sp.set_linewidth(1.3)
    sax.text(0.5, 0.5, panel_titles[i], ha='center', va='center', fontsize=11, color='#1A1A1A',
             transform=sax.transAxes)

fig.text(640 / W, 1 - 643 / H, 'SNP effect size on miRNA in islets', ha='center', va='center', fontsize=15)
fig.text(28 / W, 1 - 320 / H, 'SNP effect size on miRNA in blood', ha='center', va='center', fontsize=15,
         rotation=90)

fig.savefig('out.png', dpi=100)
